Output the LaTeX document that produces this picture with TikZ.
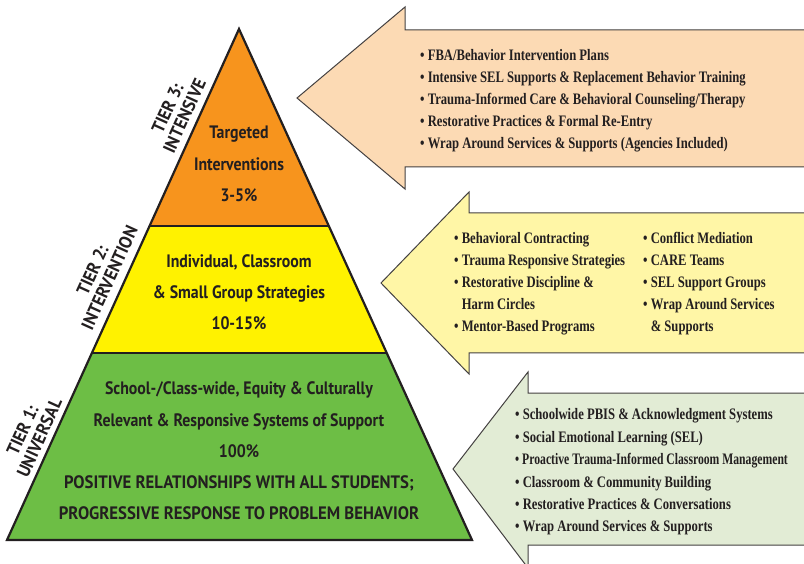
\documentclass[tikz,border=0pt]{standalone}
\usepackage{fontspec}
\newfontfamily\pyrfont[FakeStretch=0.88]{PT Sans}
\newfontfamily\capsfont[FakeStretch=0.93]{PT Sans}
\newfontfamily\tierfont[FakeStretch=0.95]{PT Sans}
\newfontfamily\arrfont[FakeStretch=0.79]{Liberation Serif}
\newfontfamily\arrnarrow[FakeStretch=0.73]{Liberation Serif}
\definecolor{torange}{HTML}{F7941D}
\definecolor{tyellow}{HTML}{FFF200}
\definecolor{tgreen}{HTML}{6DBE45}
\definecolor{aorange}{HTML}{FCDAB4}
\definecolor{ayellow}{HTML}{FFF6A6}
\definecolor{agreen}{HTML}{E2ECD5}
\definecolor{ink}{HTML}{231F20}
\tikzset{
  arrowshape/.style={draw=ink!85, line width=1pt, line join=miter},
  pyrline/.style={draw=ink, line width=2.2pt, line join=miter},
  pyrtext/.style={text=ink, align=center, inner sep=0pt, font=\pyrfont\bfseries\fontsize{18}{31.2}\selectfont},
  tierlbl/.style={text=ink, align=center, inner sep=0pt, rotate=65.6, font=\tierfont\bfseries\fontsize{18}{18.5}\selectfont},
  listtext/.style={text=ink, align=left, anchor=west, inner sep=0pt, font=\arrfont\bfseries\fontsize{16}{22}\selectfont}
}
\newcommand{\bul}{\textbullet\ }
\newcommand{\nobul}{\phantom{\textbullet\ }}
\begin{document}
\begin{tikzpicture}[x=1pt,y=-1pt]
\useasboundingbox (0,0) rectangle (804,564);
\fill[white] (0,0) rectangle (804,564);

% arrows
\draw[arrowshape, fill=aorange] (297,98) -- (405,7) -- (405,30) -- (814,30) -- (814,167) -- (405,167) -- (405,189) -- cycle;
\draw[arrowshape, fill=ayellow] (381,283) -- (469,192) -- (469,213) -- (814,213) -- (814,353) -- (469,353) -- (469,374) -- cycle;
\draw[arrowshape, fill=agreen] (453,469) -- (528,372) -- (528,393) -- (814,393) -- (814,545) -- (528,545) -- (528,568) -- cycle;

% pyramid
\coordinate (apex) at (239,29);
\coordinate (bl) at (7,540);
\coordinate (br) at (472,540);
\coordinate (l3) at (149.6,226);
\coordinate (r3) at (328.4,226);
\coordinate (l2) at (91.9,353);
\coordinate (r2) at (386.1,353);
\fill[torange] (apex) -- (r3) -- (l3) -- cycle;
\fill[tyellow] (l3) -- (r3) -- (r2) -- (l2) -- cycle;
\fill[tgreen] (l2) -- (r2) -- (br) -- (bl) -- cycle;
\draw[pyrline] (l3) -- (r3);
\draw[pyrline] (l2) -- (r2);
\draw[pyrline] (apex) -- (br) -- (bl) -- cycle;

% pyramid texts
\node[pyrtext] (p3) at (239,164) {Targeted\\Interventions\\3-5\%};
\node[pyrtext] (p2) at (239,292) {Individual, Classroom\\\& Small Group Strategies\\10-15\%};
\node[pyrtext] (p1) at (239,451) {School-/Class-wide, Equity \& Culturally\\Relevant \& Responsive Systems of Support\\100\%\\{\capsfont POSITIVE RELATIONSHIPS WITH ALL STUDENTS;}\\{\capsfont PROGRESSIVE RESPONSE TO PROBLEM BEHAVIOR}};

% tier labels
\node[tierlbl] (t3) at (176,112) {TIER 3:\\INTENSIVE};
\node[tierlbl] (t2) at (101,274) {TIER 2:\\INTERVENTION};
\node[tierlbl] (t1) at (31,434) {TIER 1:\\UNIVERSAL};

% lists
\node[listtext] (la) at (420,101) {\bul FBA/Behavior Intervention Plans\\\bul Intensive SEL Supports \& Replacement Behavior Training\\\bul Trauma-Informed Care \& Behavioral Counseling/Therapy\\\bul Restorative Practices \& Formal Re-Entry\\\bul Wrap Around Services \& Supports (Agencies Included)};
\node[listtext] (lb) at (454,284) {\bul Behavioral Contracting\\\bul Trauma Responsive Strategies\\\bul Restorative Discipline \&\\\nobul Harm Circles\\\bul Mentor-Based Programs};
\node[listtext] (lc) at (643,284) {\bul Conflict Mediation\\\bul CARE Teams\\\bul SEL Support Groups\\\bul Wrap Around Services\\\nobul \& Supports};
\node[listtext, font=\arrfont\bfseries\fontsize{16}{22.4}\selectfont] (ld) at (515,472) {\bul Schoolwide PBIS \& Acknowledgment Systems\\\bul Social Emotional Learning (SEL)\\{\arrnarrow\bfseries\bul Proactive Trauma-Informed Classroom Management}\\\bul Classroom \& Community Building\\\bul Restorative Practices \& Conversations\\\bul Wrap Around Services \& Supports};
\end{tikzpicture}
\end{document}
